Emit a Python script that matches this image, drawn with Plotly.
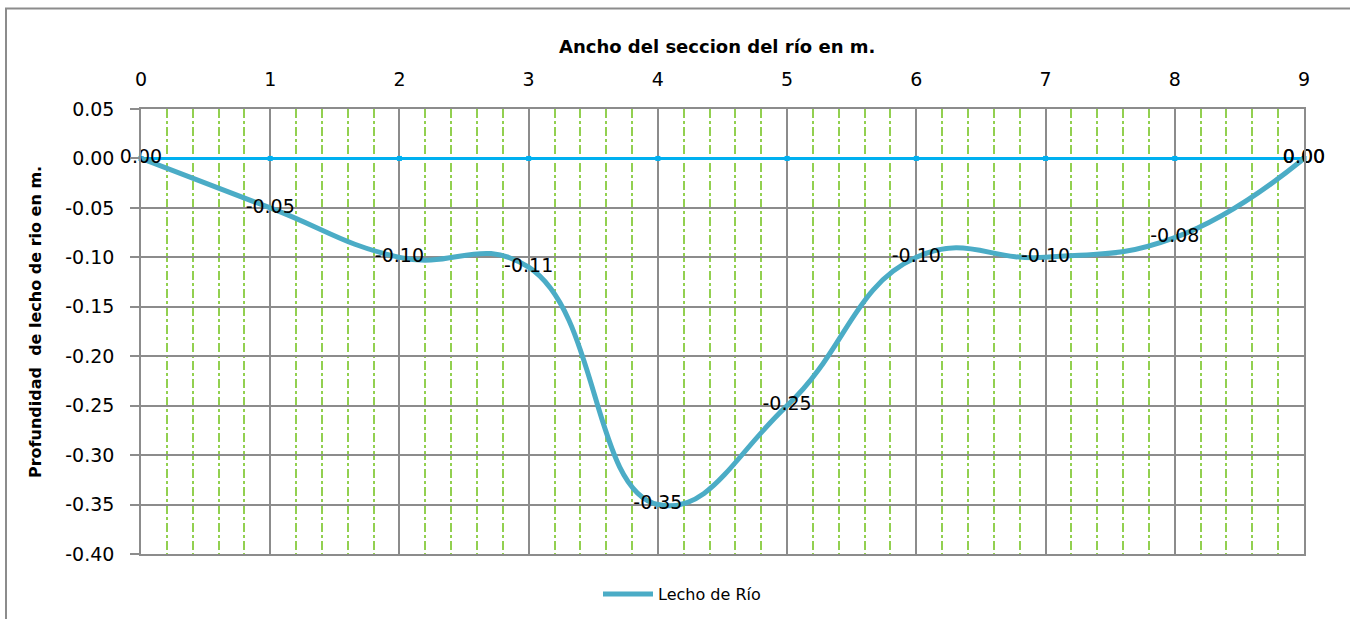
import plotly.graph_objects as go

# Data
ancho = [0, 1, 2, 3, 4, 5, 6, 7, 8, 9]
lecho = [0.00, -0.05, -0.10, -0.11, -0.35, -0.25, -0.10, -0.10, -0.08, 0.00]
agua = [0.00, 0.00, 0.00, 0.00, 0.00, 0.00, 0.00, 0.00, 0.00, 0.00]
y_ticks = [0.05, 0.00, -0.05, -0.10, -0.15, -0.20, -0.25, -0.30, -0.35, -0.40]
serie_lecho = "Lecho de Río"
titulo_x = "Ancho del seccion del río en m."
titulo_y = "Profundidad  de lecho de rio en m."

FONT = "DejaVu Sans"
GRID = "#8c8c8c"

def fmt(v):
    return f"{v:.2f}".replace("\u2212", "-")

fig = go.Figure()

# water line (no legend)
agua_text = ["" for _ in agua]
agua_text[-1] = fmt(agua[-1])
fig.add_trace(go.Scatter(
    x=ancho, y=agua, mode="lines+markers+text",
    line=dict(color="#00B0F0", width=3),
    marker=dict(symbol="square", size=5, color="#00B0F0"),
    text=agua_text, textposition="middle center",
    textfont=dict(family=FONT, size=19, color="black"),
    showlegend=False, hoverinfo="skip", cliponaxis=False,
))

fig.add_trace(go.Scatter(
    x=ancho, y=lecho, mode="lines+text", name=serie_lecho,
    line=dict(color="#4BACC6", width=5, shape="spline", smoothing=1.3),
    text=[fmt(v) for v in lecho], textposition="middle center",
    textfont=dict(family=FONT, size=19, color="black"),
    cliponaxis=False,
))

L, R, T, B = 141, 1304, 109, 554
W, H = 1350, 619
pw, ph = R - L, B - T

def px(x):
    return (x - L) / pw

def py(y):
    return (B - y) / ph

fig.update_layout(
    width=W, height=H,
    margin=dict(l=L, r=W - R, t=T, b=H - B, pad=0, autoexpand=False),
    paper_bgcolor="white", plot_bgcolor="white",
    font=dict(family=FONT, size=19, color="black"),
    showlegend=True,
    legend=dict(orientation="h", x=px(682), y=py(594), xanchor="center", yanchor="middle",
                font=dict(family=FONT, size=16, color="black"),
                itemwidth=50, bgcolor="rgba(0,0,0,0)"),
    xaxis=dict(
        range=[0, 9], side="top", dtick=1, tick0=0,
        showgrid=True, gridcolor=GRID, gridwidth=1.5,
        showline=True, linecolor=GRID, linewidth=1.5, mirror=True,
        zeroline=False, ticks="", ticklabelstandoff=14,
        tickfont=dict(family=FONT, size=19),
        minor=dict(dtick=0.2, showgrid=True, gridcolor="#92D050", gridwidth=1.5,
                   griddash="dashdot"),
    ),
    yaxis=dict(
        range=[-0.40, 0.05], tickmode="array", tickvals=y_ticks,
        ticktext=[fmt(v) for v in y_ticks],
        showgrid=True, gridcolor=GRID, gridwidth=1.5,
        showline=True, linecolor=GRID, linewidth=1.5, mirror=True,
        zeroline=False, ticks="outside", ticklen=9, tickcolor=GRID, tickwidth=1.5,
        ticklabelstandoff=12,
        tickfont=dict(family=FONT, size=19),
    ),
    annotations=[
        dict(text="<b>" + titulo_x + "</b>", xref="paper", yref="paper",
             x=px(717), y=py(47), showarrow=False, xanchor="center", yanchor="middle",
             font=dict(family=FONT, size=18, color="black")),
        dict(text="<b>" + titulo_y + "</b>", xref="paper", yref="paper",
             x=px(35), y=py(322), showarrow=False, textangle=-90,
             xanchor="center", yanchor="middle",
             font=dict(family=FONT, size=16, color="black")),
    ],
    shapes=[
        dict(type="rect", xref="paper", yref="paper",
             x0=px(6), x1=px(1400), y0=py(700), y1=py(8.5),
             line=dict(color="#8c8c8c", width=2), fillcolor="rgba(0,0,0,0)", layer="below"),
    ],
)

fig.write_html("out.html", config={"displayModeBar": False},
               post_script="document.body.style.margin='0px';")
